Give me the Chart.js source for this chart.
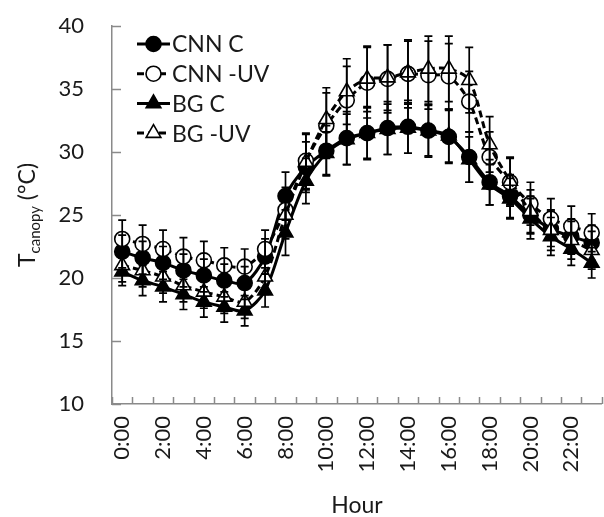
<!DOCTYPE html>
<html>
<head>
<meta charset="utf-8">
<script src="https://cdn.jsdelivr.net/npm/chart.js@4/dist/chart.umd.min.js"></script>
<style>
  html, body { margin: 0; padding: 0; background: #fff; overflow: hidden; }
  #wrap { width: 612px; height: 517px; }
</style>
</head>
<body>
<div id="wrap"><canvas id="canopyChart" width="612" height="517"></canvas></div>
<script>
const hours = ['0:00', '1:00', '2:00', '3:00', '4:00', '5:00', '6:00', '7:00', '8:00', '9:00', '10:00', '11:00',
    '12:00', '13:00', '14:00', '15:00', '16:00', '17:00', '18:00', '19:00', '20:00', '21:00', '22:00', '23:00'];

const cnnC = [22.1, 21.6, 21.2, 20.6, 20.2, 19.8, 19.6, 21.7, 26.5, 28.8, 30.1, 31.1, 31.5, 31.9, 32.0, 31.7, 31.2, 29.6, 27.6, 26.5, 25.0, 23.9, 23.3, 22.8];
const cnnUV = [23.1, 22.7, 22.3, 21.7, 21.4, 21.0, 20.9, 22.3, 25.4, 29.3, 32.1, 34.1, 35.5, 35.8, 36.2, 36.1, 36.0, 34.0, 29.6, 27.6, 25.9, 24.7, 24.1, 23.6];
const bgC = [20.5, 19.8, 19.3, 18.7, 18.1, 17.7, 17.4, 19.0, 23.6, 27.7, 29.9, 31.0, 31.5, 31.8, 31.9, 31.7, 31.3, 29.4, 27.4, 26.3, 24.7, 23.3, 22.3, 21.2];
const bgUV = [21.0, 20.6, 20.1, 19.4, 18.9, 18.5, 18.1, 20.1, 25.0, 29.2, 32.6, 34.8, 35.8, 35.9, 36.3, 36.6, 36.6, 35.7, 30.6, 27.7, 25.3, 23.8, 23.0, 22.2];

// +/- error bar sizes
const cnnCErr = [1.3, 1.3, 1.3, 1.3, 1.3, 1.3, 1.3, 1.4, 1.9, 2.0, 2.0, 2.1, 2.1, 2.1, 2.1, 2.1, 2.1, 2.0, 1.8, 1.7, 1.5, 1.4, 1.4, 1.4];
const cnnUVErr = [1.5, 1.5, 1.5, 1.5, 1.5, 1.4, 1.4, 1.5, 1.8, 2.2, 2.6, 2.7, 2.8, 2.7, 2.7, 2.7, 2.6, 2.4, 2.0, 1.9, 1.7, 1.6, 1.6, 1.5];
const bgCErr = [1.1, 1.2, 1.2, 1.2, 1.2, 1.2, 1.2, 1.3, 1.8, 1.8, 1.7, 2.0, 2.0, 2.0, 2.0, 2.0, 2.1, 1.8, 1.6, 1.6, 1.6, 1.5, 1.3, 1.2];
const bgUVErr = [1.3, 1.3, 1.3, 1.3, 1.3, 1.3, 1.3, 1.4, 1.9, 2.2, 2.5, 2.6, 2.6, 2.6, 2.5, 2.6, 2.6, 2.6, 2.2, 1.9, 1.7, 1.6, 1.5, 1.5];

const yTicks = [10, 15, 20, 25, 30, 35, 40];

const FONT = "Lato, 'Open Sans', sans-serif";
const TEXT = '#1a1a1a';
const AXIS = '#8a8a8a';

function series(label, data, err, style, filled, dashed, order) {
    return {
        label: label,
        data: data,
        err: err,
        order: order,
        borderColor: '#000',
        borderWidth: 3,
        borderDash: dashed ? [7, 4] : [],
        backgroundColor: filled ? '#000' : '#fff',
        pointStyle: style,
        pointRadius: style === 'triangle' ? 8.5 : 7.5,
        pointBackgroundColor: filled ? '#000' : '#fff',
        pointBorderColor: '#000',
        pointBorderWidth: 1.6,
        fill: false,
        tension: 0.3
    };
}

const errorBars = {
    id: 'errorBars',
    afterDatasetsDraw(chart) {
        const ctx = chart.ctx;
        const y = chart.scales.y;
        ctx.save();
        ctx.strokeStyle = '#000';
        ctx.lineWidth = 1.7;
        chart.data.datasets.forEach((ds, d) => {
            const meta = chart.getDatasetMeta(d);
            meta.data.forEach((pt, i) => {
                const top = y.getPixelForValue(ds.data[i] + ds.err[i]);
                const bot = y.getPixelForValue(ds.data[i] - ds.err[i]);
                ctx.beginPath();
                ctx.moveTo(pt.x, top); ctx.lineTo(pt.x, bot);
                ctx.moveTo(pt.x - 4, top); ctx.lineTo(pt.x + 4, top);
                ctx.moveTo(pt.x - 4, bot); ctx.lineTo(pt.x + 4, bot);
                ctx.stroke();
            });
        });
        ctx.restore();
    }
};

// inward tick marks, y title with subscript, legend inside the plot
const decorations = {
    id: 'decorations',
    afterDraw(chart) {
        const ctx = chart.ctx;
        const area = chart.chartArea;
        const x = chart.scales.x, y = chart.scales.y;
        ctx.save();
        ctx.strokeStyle = AXIS;
        ctx.lineWidth = 1.5;
        ctx.beginPath();
        yTicks.forEach(v => {
            const py = Math.round(y.getPixelForValue(v)) + 0.5;
            ctx.moveTo(area.left, py); ctx.lineTo(area.left + 9, py);
        });
        for (let i = 0; i <= hours.length; i++) {
            const px = Math.round(x.getPixelForValue(i - 0.5)) + 0.5;
            ctx.moveTo(px, area.bottom); ctx.lineTo(px, area.bottom - 7);
        }
        ctx.stroke();

        // y axis title
        ctx.fillStyle = TEXT;
        ctx.translate(27, (area.top + area.bottom) / 2);
        ctx.rotate(-Math.PI / 2);
        const big = '23px ' + FONT, small = '15px ' + FONT;
        ctx.font = big; const wT = ctx.measureText('T').width;
        ctx.font = small; const wSub = ctx.measureText('canopy').width;
        ctx.font = big; const wRest = ctx.measureText(' (°C)').width;
        let tx = -(wT + wSub + wRest) / 2;
        ctx.textBaseline = 'alphabetic';
        ctx.textAlign = 'left';
        ctx.font = big; ctx.fillText('T', tx, 8); tx += wT;
        ctx.font = small; ctx.fillText('canopy', tx, 13); tx += wSub;
        ctx.font = big; ctx.fillText(' (°C)', tx, 8);
        ctx.restore();

        // legend
        ctx.save();
        chart.data.datasets.forEach((ds, i) => {
            const ly = 44 + i * 29.7;
            ctx.strokeStyle = '#000';
            ctx.lineWidth = 3;
            ctx.setLineDash(ds.borderDash);
            ctx.beginPath();
            ctx.moveTo(137, ly); ctx.lineTo(170, ly);
            ctx.stroke();
            ctx.setLineDash([]);
            ctx.fillStyle = ds.pointBackgroundColor;
            ctx.lineWidth = 1.6;
            Chart.helpers.drawPoint(ctx, {
                pointStyle: ds.pointStyle, radius: ds.pointRadius, rotation: 0, borderWidth: 1.6
            }, 153.5, ly);
            ctx.fillStyle = TEXT;
            ctx.font = '23px ' + FONT;
            ctx.textBaseline = 'middle';
            ctx.textAlign = 'left';
            ctx.fillText(ds.label, 172, ly + 1);
        });
        ctx.restore();
    }
};

const ctx = document.getElementById('canopyChart').getContext('2d');
const canopyChart = new Chart(ctx, {
    type: 'line',
    data: {
        labels: hours,
        datasets: [
            series('CNN C', cnnC, cnnCErr, 'circle', true, false, 4),
            series('CNN -UV', cnnUV, cnnUVErr, 'circle', false, true, 3),
            series('BG C', bgC, bgCErr, 'triangle', true, false, 2),
            series('BG -UV', bgUV, bgUVErr, 'triangle', false, true, 1)
        ]
    },
    options: {
        responsive: false,
        animation: false,
        devicePixelRatio: 1,
        layout: { padding: { top: 26, right: 2, left: 0, bottom: 0 } },
        plugins: {
            legend: { display: false },
            tooltip: { enabled: false }
        },
        scales: {
            x: {
                offset: true,
                afterFit: s => { s.height = 113; s.paddingLeft = 0; s.paddingRight = 0; },
                grid: { drawOnChartArea: false, drawTicks: false },
                border: { display: true, color: AXIS, width: 1.5 },
                ticks: {
                    autoSkip: false,
                    minRotation: 90,
                    maxRotation: 90,
                    padding: 12,
                    color: TEXT,
                    font: { family: FONT, size: 22 },
                    callback: (v, i) => (i % 2 === 0 ? hours[i] : '')
                },
                title: {
                    display: true,
                    text: 'Hour',
                    color: TEXT,
                    font: { family: FONT, size: 23 },
                    padding: { top: 0, bottom: -2 }
                }
            },
            y: {
                min: 10,
                max: 40,
                afterFit: s => { s.width = 112; s.paddingTop = 0; s.paddingBottom = 0; },
                afterBuildTicks: s => { s.ticks = yTicks.map(v => ({ value: v })); },
                grid: { drawOnChartArea: false, drawTicks: false },
                border: { display: true, color: AXIS, width: 1.5 },
                ticks: {
                    padding: 28,
                    color: TEXT,
                    font: { family: FONT, size: 22 }
                }
            }
        }
    },
    plugins: [errorBars, decorations]
});
</script>
</body>
</html>
